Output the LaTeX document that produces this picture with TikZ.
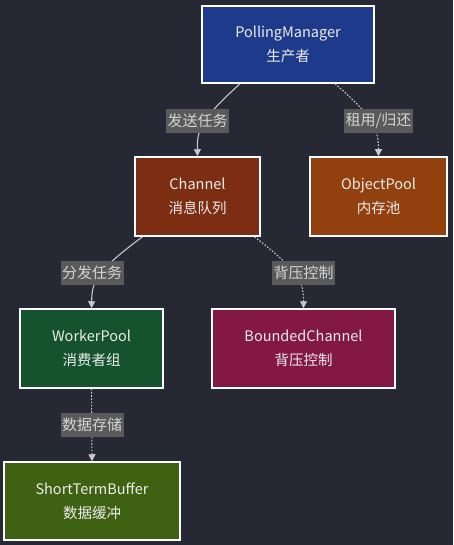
\documentclass[tikz,border=0pt]{standalone}
\usepackage{fontspec}
\setmainfont{Noto Sans CJK SC}
\usetikzlibrary{arrows.meta}
\definecolor{bg}{HTML}{262833}
\definecolor{cpm}{HTML}{1E3A8A}
\definecolor{cch}{HTML}{7C2D12}
\definecolor{cop}{HTML}{92400E}
\definecolor{cwp}{HTML}{14532D}
\definecolor{cbc}{HTML}{831843}
\definecolor{cst}{HTML}{3F6212}
\definecolor{lblbg}{HTML}{5A5A5A}
\definecolor{lbltx}{HTML}{D4D4D4}
\definecolor{edgec}{HTML}{C8C8D2}
\definecolor{boxtx}{HTML}{ECECEC}
\tikzset{
  box/.style={draw=white, line width=1.5pt, text=boxtx, align=center,
    font=\fontsize{14.5}{24}\selectfont, inner sep=0pt},
  lbl/.style={fill=lblbg, text=lbltx, inner sep=1.5pt, minimum height=24pt,
    font=\fontsize{15}{17}\selectfont},
  edge/.style={draw=edgec, line width=1.1pt, -{Triangle[length=7pt,width=7pt]}},
  dedge/.style={edge, dash pattern=on 1.6pt off 1.6pt}
}
\begin{document}
\begin{tikzpicture}[x=1pt,y=-1pt]
\fill[bg] (0,0) rectangle (453,545);
\useasboundingbox (0,0) rectangle (453,545);
\node[box, fill=cpm, minimum width=172pt, minimum height=77pt] (pm) at (288,44.5) {PollingManager\\生产者};
\node[box, fill=cch, minimum width=125pt, minimum height=79pt] (ch) at (197.5,196.5) {Channel\\消息队列};
\node[box, fill=cop, minimum width=137pt, minimum height=79pt] (op) at (378.5,196.5) {ObjectPool\\内存池};
\node[box, fill=cwp, minimum width=143pt, minimum height=79pt] (wp) at (91.5,348.5) {WorkerPool\\消费者组};
\node[box, fill=cbc, minimum width=183pt, minimum height=79pt] (bc) at (303.5,348.5) {BoundedChannel\\背压控制};
\node[box, fill=cst, minimum width=176pt, minimum height=78pt] (st) at (92,501) {ShortTermBuffer\\数据缓冲};

\coordinate (pmA) at ([xshift=-48pt]pm.south);
\coordinate (pmB) at ([xshift=47pt]pm.south);
\coordinate (chA) at ([xshift=-55pt]ch.south);
\coordinate (chB) at ([xshift=57pt]ch.south);

\draw[edge] (pmA) .. controls (200,120) and (197,130) .. (ch.north);
\draw[dedge] (pmB) .. controls (375,118) and (378.5,130) .. (op.north);
\draw[edge] (chA) .. controls (95,272) and (92,282) .. (wp.north);
\draw[dedge] (chB) .. controls (300,272) and (303.5,282) .. (bc.north);
\draw[dedge] (wp.south) -- (st.north);

\node[lbl] (l1) at (197.5,121) {发送任务};
\node[lbl] (l2) at (378.5,121) {租用/归还};
\node[lbl] (l3) at (92,273) {分发任务};
\node[lbl] (l4) at (303.5,273) {背压控制};
\node[lbl] (l5) at (92,425) {数据存储};
\end{tikzpicture}
\end{document}
